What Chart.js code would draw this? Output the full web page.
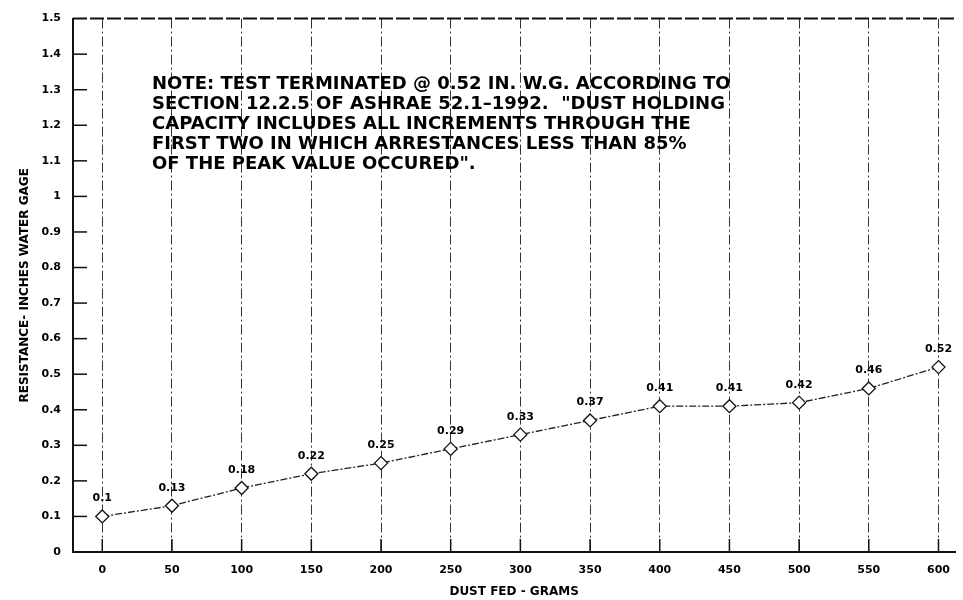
<!DOCTYPE html>
<html>
<head>
<meta charset="utf-8">
<script src="https://cdn.jsdelivr.net/npm/chart.js@4/dist/chart.umd.min.js"></script>
<style>
  html, body { margin: 0; padding: 0; background: #fff; }
  #wrap { width: 963px; height: 600px; }
</style>
</head>
<body>
<div id="wrap"><canvas id="c" width="963" height="600"></canvas></div>
<script>
const dustFed = [0, 50, 100, 150, 200, 250, 300, 350, 400, 450, 500, 550, 600]
const resistance = [0.1, 0.13, 0.18, 0.22, 0.25, 0.29, 0.33, 0.37, 0.41, 0.41, 0.42, 0.46, 0.52]
const pointLabels = ['0.1', '0.13', '0.18', '0.22', '0.25', '0.29', '0.33', '0.37', '0.41', '0.41', '0.42', '0.46', '0.52']
const xTickValues = [0, 50, 100, 150, 200, 250, 300, 350, 400, 450, 500, 550, 600]
const yTickLabels = ['0', '0.1', '0.2', '0.3', '0.4', '0.5', '0.6', '0.7', '0.8', '0.9', '1', '1.1', '1.2', '1.3', '1.4', '1.5']
const noteLines = [
    'NOTE: TEST TERMINATED @ 0.52 IN. W.G. ACCORDING TO',
    'SECTION 12.2.5 OF ASHRAE 52.1\u20131992.  "DUST HOLDING',
    'CAPACITY INCLUDES ALL INCREMENTS THROUGH THE',
    'FIRST TWO IN WHICH ARRESTANCES LESS THAN 85%',
    'OF THE PEAK VALUE OCCURED".',
]

const fontFamily = '"DejaVu Sans", sans-serif'

// frame extras: dashed top border, short inner tick marks, point labels, note
const extras = {
    id: 'extras',
    afterDraw(chart) {
        const { ctx, chartArea: area, scales } = chart
        ctx.save()

        ctx.strokeStyle = '#111'
        ctx.lineWidth = 2
        ctx.setLineDash([14, 3])
        ctx.beginPath()
        ctx.moveTo(area.left, area.top)
        ctx.lineTo(area.right, area.top)
        ctx.stroke()
        ctx.setLineDash([])

        ctx.lineWidth = 1.5
        yTickLabels.forEach((_, i) => {
            if (i === 0 || i === yTickLabels.length - 1) return
            const y = scales.y.getPixelForValue(i / 10)
            ctx.beginPath()
            ctx.moveTo(area.left, y)
            ctx.lineTo(area.left + 14, y)
            ctx.stroke()
        })
        xTickValues.forEach((v) => {
            const x = scales.x.getPixelForValue(v)
            ctx.beginPath()
            ctx.moveTo(x, area.bottom)
            ctx.lineTo(x, area.bottom - 13)
            ctx.stroke()
        })

        ctx.fillStyle = '#000'
        ctx.font = 'bold 11px ' + fontFamily
        ctx.textAlign = 'center'
        ctx.textBaseline = 'middle'
        chart.getDatasetMeta(0).data.forEach((pt, i) => {
            ctx.fillText(pointLabels[i], pt.x, pt.y - 18)
        })

        ctx.font = 'bold 18px ' + fontFamily
        ctx.textAlign = 'left'
        noteLines.forEach((line, i) => {
            ctx.fillText(line, 152, 84 + i * 20)
        })

        ctx.restore()
    },
}

new Chart(document.getElementById('c'), {
    type: 'line',
    data: {
        datasets: [
            {
                data: dustFed.map((x, i) => ({ x, y: resistance[i] })),
                borderColor: '#222',
                borderWidth: 1.3,
                borderDash: [7, 2, 2, 2],
                pointStyle: 'rectRot',
                pointRadius: 6.5,
                pointBackgroundColor: '#fff',
                pointBorderColor: '#111',
                pointBorderWidth: 1.3,
                tension: 0,
            },
        ],
    },
    options: {
        responsive: false,
        animation: false,
        events: [],
        layout: { padding: { top: 14, right: 3, left: 0, bottom: 0 } },
        plugins: {
            legend: { display: false },
            tooltip: { enabled: false },
        },
        scales: {
            x: {
                type: 'linear',
                min: -21,
                max: 612,
                afterBuildTicks: (scale) => {
                    scale.ticks = xTickValues.map((value) => ({ value }))
                },
                afterFit: (scale) => {
                    scale.height = 48
                },
                grid: {
                    color: '#333',
                    lineWidth: 1,
                    drawTicks: false,
                },
                border: {
                    display: true,
                    color: '#111',
                    width: 2,
                    dash: [10, 3, 2, 3],
                },
                ticks: {
                    color: '#000',
                    padding: 12,
                    maxRotation: 0,
                    autoSkip: false,
                    font: { family: fontFamily, size: 11, weight: 'bold' },
                },
                title: {
                    display: true,
                    text: 'DUST FED - GRAMS',
                    color: '#000',
                    padding: { top: 0, bottom: 1 },
                    font: { family: fontFamily, size: 12, weight: 'bold' },
                },
            },
            y: {
                min: 0,
                max: 1.5,
                afterBuildTicks: (scale) => {
                    scale.ticks = yTickLabels.map((_, i) => ({ value: i / 10 }))
                },
                afterFit: (scale) => {
                    scale.width = 73
                },
                grid: { display: false, drawTicks: false },
                border: { display: true, color: '#111', width: 2 },
                ticks: {
                    color: '#000',
                    padding: 12,
                    autoSkip: false,
                    callback: (value, index) => yTickLabels[index],
                    font: { family: fontFamily, size: 11, weight: 'bold' },
                },
                title: {
                    display: true,
                    text: 'RESISTANCE- INCHES WATER GAGE',
                    color: '#000',
                    padding: { top: 18, bottom: 0 },
                    font: { family: fontFamily, size: 12, weight: 'bold' },
                },
            },
        },
    },
    plugins: [extras],
})
</script>
</body>
</html>
